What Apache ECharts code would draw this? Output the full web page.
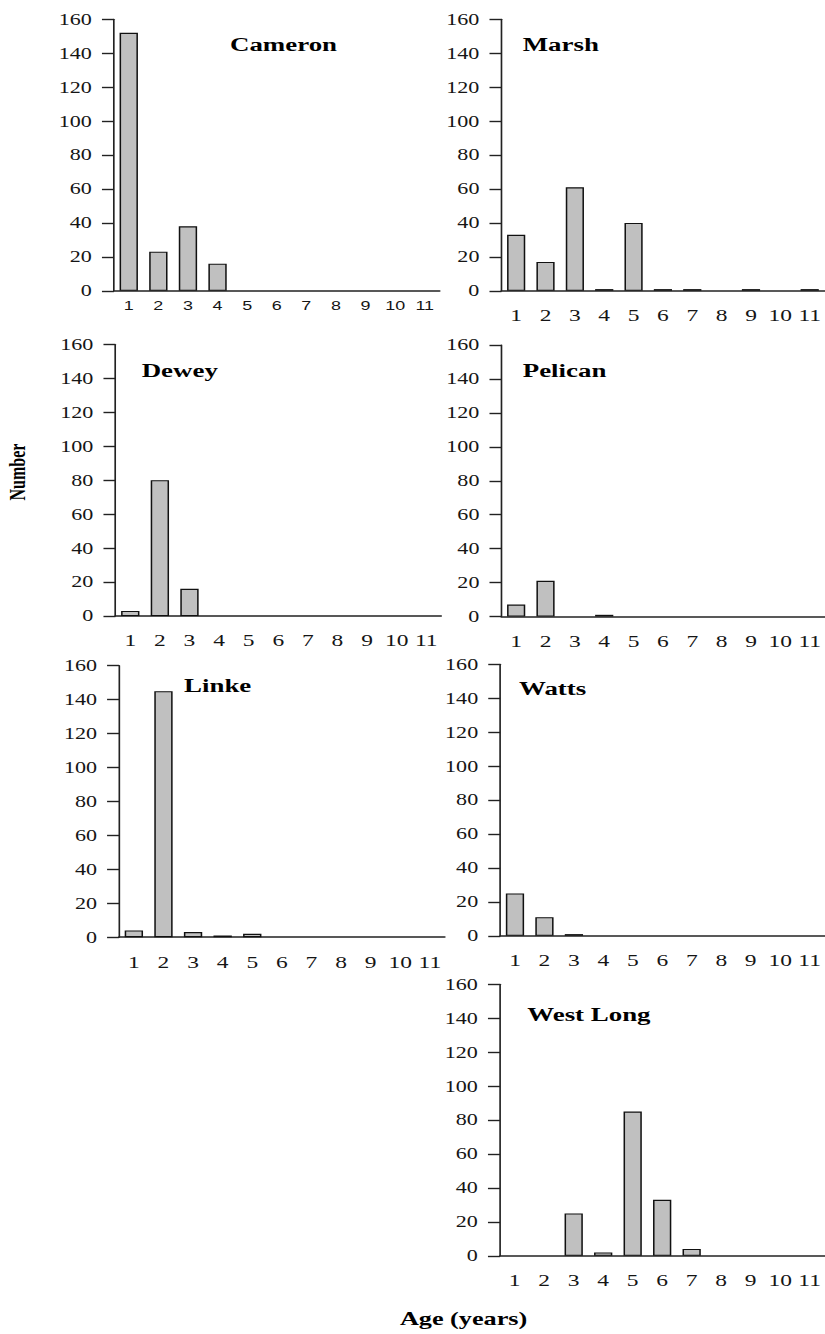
<!DOCTYPE html>
<html>
<head>
<meta charset="utf-8">
<script src="https://cdn.jsdelivr.net/npm/echarts@6/dist/echarts.min.js"></script>
<style>
  html, body { margin: 0; padding: 0; background: #fff; overflow: hidden; }
  #wrap { width: 825px; height: 1334px; overflow: hidden; }
  /* the figure is laid out on a narrower canvas and widened as a whole */
  #chart { width: 598px; height: 1334px; transform: scaleX(1.3796); transform-origin: 0 0; }
</style>
</head>
<body>
<div id="wrap"><div id="chart"></div></div>
<script>
// Age classes on the x axis
const ages = ['1', '2', '3', '4', '5', '6', '7', '8', '9', '10', '11'];
// Number axis range
const yMin = 0, yMax = 160, yStep = 20;

// Counts per age class at each site
const cameron  = [152, 23, 38, 16, 0, 0, 0, 0, 0, 0, 0];
const marsh    = [33, 17, 61, 1, 40, 1, 1, 0, 1, 0, 1];
const dewey    = [3, 80, 16, 0, 0, 0, 0, 0, 0, 0, 0];
const pelican  = [7, 21, 0, 1, 0, 0, 0, 0, 0, 0, 0];
const linke    = [4, 145, 3, 1, 2, 0, 0, 0, 0, 0, 0];
const watts    = [25, 11, 1, 0, 0, 0, 0, 0, 0, 0, 0];
const westLong = [0, 0, 25, 2, 85, 33, 4, 0, 0, 0, 0];

const siteNames = ['Cameron', 'Marsh', 'Dewey', 'Pelican', 'Linke', 'Watts', 'West Long'];
const siteData  = [cameron, marsh, dewey, pelican, linke, watts, westLong];

// panel placement (left, top, name position)
const panels = [
  { left: 82.6,  top: 19.3,  nx: 166.7, ny: 44,   sans: true },
  { left: 363.5, top: 19.3,  nx: 378.9, ny: 44 },
  { left: 83.7,  top: 344.5, nx: 102.7, ny: 370 },
  { left: 363.5, top: 345,   nx: 378.9, ny: 370 },
  { left: 86.3,  top: 665.7, nx: 133.4, ny: 685 },
  { left: 362.6, top: 664.3, nx: 376.2, ny: 688 },
  { left: 362.4, top: 984.3, nx: 382.2, ny: 1014 }
];
const panelW = 236, panelH = 271.5;
const serif = '"Liberation Serif", "Times New Roman", serif';
const sans = '"Liberation Sans", Arial, sans-serif';
const ink = '#151515';

const grid = [], xAxis = [], yAxis = [], series = [], graphic = [];
panels.forEach((p, i) => {
  grid.push({ left: p.left, top: p.top, width: panelW, height: panelH });
  xAxis.push({
    type: 'category', gridIndex: i, data: ages, boundaryGap: true,
    axisLine: { lineStyle: { color: '#222', width: 1.6 } },
    axisTick: { alignWithLabel: true, length: 6, lineStyle: { color: '#222', width: 1.2 } },
    axisLabel: p.sans
      ? { fontFamily: sans, fontSize: 13, color: ink, margin: 8, interval: 0 }
      : { fontFamily: serif, fontSize: 17, color: ink, margin: 16, interval: 0 },
    splitLine: { show: false }
  });
  yAxis.push({
    type: 'value', gridIndex: i, min: yMin, max: yMax, interval: yStep,
    axisLine: { show: true, lineStyle: { color: '#222', width: 1.2 } },
    axisTick: { show: true, length: 8.7, lineStyle: { color: '#222', width: 1.4 } },
    axisLabel: { fontFamily: serif, fontSize: 16, color: ink, margin: 16 },
    splitLine: { show: false }
  });
  series.push({
    type: 'bar', xAxisIndex: i, yAxisIndex: i,
    // empty age classes get no outline, so nothing shows above the axis
    data: siteData[i].map(v => (v === 0 ? { value: v, itemStyle: { borderWidth: 0 } } : v)),
    barWidth: '62%',
    itemStyle: { color: '#c0c0c0', borderColor: '#111', borderWidth: 1.1 },
    silent: true
  });
  graphic.push({
    type: 'text', x: p.nx, y: p.ny,
    style: { text: siteNames[i], font: 'bold 19.5px ' + serif, fill: '#000',
             textAlign: 'left', textVerticalAlign: 'middle' }
  });
});

// shared axis titles
graphic.push({
  type: 'text', x: 13, y: 472, rotation: Math.PI / 2,
  style: { text: 'Number', font: 'bold 16px ' + serif, fill: '#000',
           textAlign: 'center', textVerticalAlign: 'middle' }
});
graphic.push({
  type: 'text', x: 336, y: 1319,
  style: { text: 'Age (years)', font: 'bold 19px ' + serif, fill: '#000',
           textAlign: 'center', textVerticalAlign: 'middle' }
});

const chart = echarts.init(document.getElementById('chart'), null, { renderer: 'svg' });
chart.setOption({
  animation: false,
  backgroundColor: '#fff',
  grid, xAxis, yAxis, series, graphic
});
</script>
</body>
</html>
